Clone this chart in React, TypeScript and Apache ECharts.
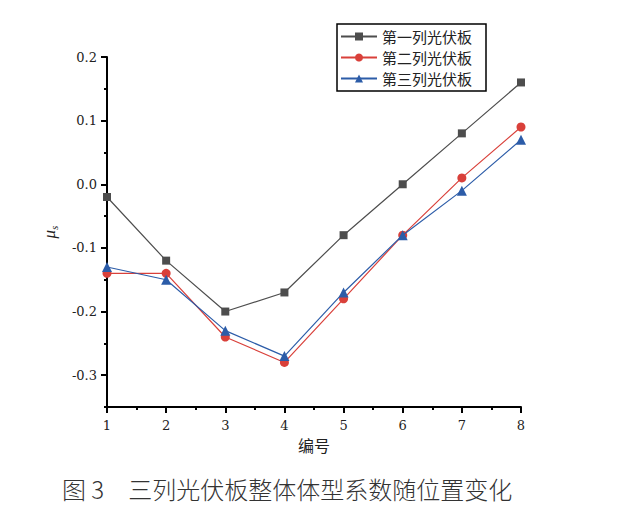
import React, { useEffect, useRef } from "react";
import * as echarts from "echarts";

const xValues = [1, 2, 3, 4, 5, 6, 7, 8];
const seriesNames = ["第一列光伏板", "第二列光伏板", "第三列光伏板"];
const row1 = [-0.02, -0.12, -0.2, -0.17, -0.08, 0.0, 0.08, 0.16];
const row2 = [-0.14, -0.14, -0.24, -0.28, -0.18, -0.08, 0.01, 0.09];
const row3 = [-0.13, -0.15, -0.23, -0.27, -0.17, -0.08, -0.01, 0.07];
const yTickValues = [-0.3, -0.2, -0.1, 0.0, 0.1, 0.2];
const xAxisTitle = "编号";
const caption = "图 3　三列光伏板整体体型系数随位置变化";

const colors = ["#4d4d4d", "#d9403a", "#2c5ca8"];
const symbols = ["rect", "circle", "triangle"];
const symbolSizes = [8, 9, 10];

export default function App() {
  const ref = useRef<HTMLDivElement>(null);
  useEffect(() => {
    if (!ref.current) return;
    const chart = echarts.init(ref.current, null, { renderer: "svg" });
    const labelFont = { fontFamily: "DejaVu Serif", fontSize: 13, color: "#222" };
    const datasets = [row1, row2, row3];
    chart.setOption({
      animation: false,
      backgroundColor: "#fff",
      grid: { left: 107, right: 97, top: 57, bottom: 111, containLabel: false },
      legend: {
        orient: "vertical",
        left: 337,
        top: 24,
        padding: [5, 14, 5, 3],
        itemWidth: 36,
        itemHeight: 10,
        itemGap: 6,
        borderColor: "#000",
        borderWidth: 1.5,
        backgroundColor: "#fff",
        textStyle: { fontFamily: "Noto Sans CJK SC", fontSize: 15, color: "#222", lineHeight: 15 },
        data: seriesNames,
      },
      xAxis: [
        {
          type: "value",
          min: 1,
          max: 8,
          interval: 1,
          position: "bottom",
          name: xAxisTitle,
          nameLocation: "middle",
          nameGap: 30,
          nameTextStyle: { fontFamily: "Noto Sans CJK SC", fontSize: 16, color: "#222" },
          axisLine: { show: true, onZero: false, lineStyle: { color: "#000", width: 2 } },
          axisTick: { show: true, inside: false, length: 6, lineStyle: { color: "#000", width: 2 } },
          axisLabel: { ...labelFont, margin: 12 },
          splitLine: { show: false },
        },
        {
          type: "value",
          min: 1,
          max: 8,
          interval: 0.5,
          position: "bottom",
          axisLine: { show: false, onZero: false },
          axisTick: { show: true, inside: false, length: 3, lineStyle: { color: "#000", width: 2 } },
          axisLabel: { show: false },
          splitLine: { show: false },
        },
      ],
      yAxis: [
        {
          type: "value",
          min: -0.35,
          max: 0.2,
          position: "left",
          name: "{mu|μ}{sub|s}",
          nameLocation: "middle",
          nameRotate: 90,
          nameGap: 48,
          nameTextStyle: {
            rich: {
              mu: { fontFamily: "Liberation Serif", fontStyle: "italic", fontSize: 17, color: "#222" },
              sub: { fontFamily: "Liberation Serif", fontStyle: "italic", fontSize: 11, color: "#222", padding: [8, 0, 0, 0] },
            },
          },
          axisLine: { show: true, onZero: false, lineStyle: { color: "#000", width: 2 } },
          axisTick: {
            show: true,
            inside: false,
            length: 6,
            customValues: yTickValues,
            lineStyle: { color: "#000", width: 2 },
          },
          axisLabel: {
            ...labelFont,
            margin: 10,
            customValues: yTickValues,
            formatter: (v: number) => (Math.abs(v) < 1e-9 ? "0.0" : v.toFixed(1)),
          },
          splitLine: { show: false },
        },
        {
          type: "value",
          min: -0.35,
          max: 0.2,
          interval: 0.05,
          position: "left",
          axisLine: { show: false, onZero: false },
          axisTick: { show: true, inside: false, length: 3, lineStyle: { color: "#000", width: 2 } },
          axisLabel: { show: false },
          splitLine: { show: false },
        },
      ],
      series: datasets.map((d, i) => ({
        name: seriesNames[i],
        type: "line",
        xAxisIndex: 0,
        yAxisIndex: 0,
        data: d.map((v, j) => [xValues[j], v]),
        symbol: symbols[i],
        symbolSize: symbolSizes[i],
        showAllSymbol: true,
        clip: false,
        lineStyle: { color: colors[i], width: 1.2 },
        itemStyle: { color: colors[i] },
        z: 2 + i,
      })),
      graphic: [
        {
          type: "text",
          left: 62,
          top: 476,
          style: {
            text: caption,
            fontFamily: "Noto Sans CJK SC",
            fontWeight: 300,
            fontSize: 24,
            fill: "#333",
          },
        },
      ],
    });
    return () => chart.dispose();
  }, []);
  return (
    <div
      ref={ref}
      style={{ position: "fixed", left: 0, top: 0, width: 618, height: 518 }}
    />
  );
}
